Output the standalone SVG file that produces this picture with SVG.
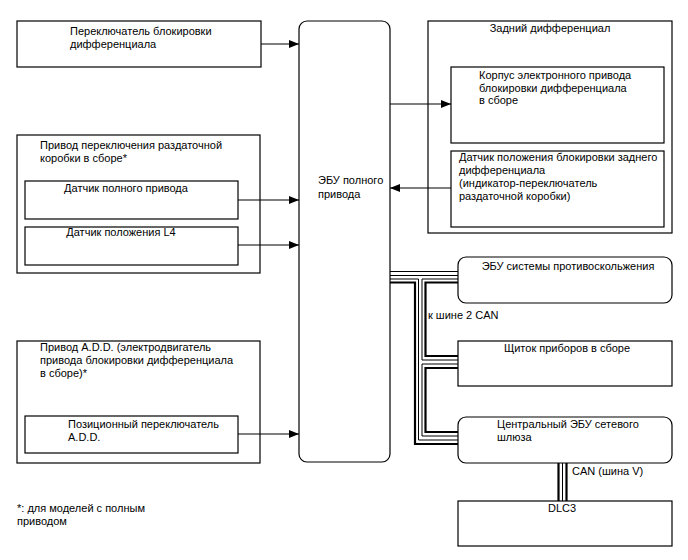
<svg xmlns="http://www.w3.org/2000/svg" width="688" height="560" viewBox="0 0 688 560">
<style>
text{font-family:"Liberation Sans",Arial,sans-serif;font-size:11px;fill:#000}
.b{fill:#fff;stroke:#000;stroke-width:1.2}
.c{fill:none;stroke:#000;stroke-width:1.1}
.w{fill:none;stroke:#000;stroke-width:1}
.k{fill:none;stroke:#000;stroke-width:2.2}
.m{text-anchor:middle}
</style>
<defs>
<marker id="ah" viewBox="0 0 10 8" refX="10" refY="4" markerWidth="10" markerHeight="8" markerUnits="userSpaceOnUse" orient="auto">
<path d="M0,0 L10,4 L0,8 Z" fill="#000"/>
</marker>
</defs>
<rect width="688" height="560" fill="#fff"/>

<g id="diff-lock-switch">
<rect class="b" x="17" y="21" width="244" height="46"/>
<text x="70" y="35">Переключатель блокировки</text>
<text x="70" y="48">дифференциала</text>
</g>

<g id="ecu-4wd">
<rect class="b" x="299" y="21" width="91" height="441" rx="8"/>
<text x="318" y="184">ЭБУ полного</text>
<text x="318" y="198">привода</text>
</g>

<g id="transfer-actuator">
<rect class="b" x="17" y="135" width="243" height="138"/>
<text x="40" y="149">Привод переключения раздаточной</text>
<text x="40" y="162">коробки в сборе*</text>
</g>
<g id="4wd-sensor">
<rect class="b" x="25" y="181" width="213" height="38"/>
<text x="126" y="192" class="m">Датчик полного привода</text>
</g>
<g id="l4-sensor">
<rect class="b" x="25" y="227" width="213" height="38"/>
<text x="121" y="236" class="m">Датчик положения L4</text>
</g>

<g id="add-actuator">
<rect class="b" x="17" y="341" width="243" height="122"/>
<text x="40" y="351">Привод A.D.D. (электродвигатель</text>
<text x="40" y="364">привода блокировки дифференциала</text>
<text x="40" y="377">в сборе)*</text>
</g>
<g id="add-position-switch">
<rect class="b" x="25" y="416" width="213" height="37"/>
<text x="68" y="428">Позиционный переключатель</text>
<text x="68" y="441">A.D.D.</text>
</g>

<g id="rear-diff">
<rect class="b" x="428" y="21" width="244" height="212"/>
<text x="550" y="32" class="m">Задний дифференциал</text>
</g>
<g id="diff-lock-actuator">
<rect class="b" x="451" y="67" width="213" height="76"/>
<text x="479" y="79">Корпус электронного привода</text>
<text x="479" y="92">блокировки дифференциала</text>
<text x="479" y="104">в сборе</text>
</g>
<g id="rear-lock-sensor">
<rect class="b" x="451" y="151" width="213" height="76"/>
<text x="459" y="161">Датчик положения блокировки заднего</text>
<text x="459" y="174">дифференциала</text>
<text x="459" y="187">(индикатор-переключатель</text>
<text x="459" y="200">раздаточной коробки)</text>
</g>

<g id="skid-ecu">
<rect class="b" x="458" y="257" width="214" height="46" rx="8"/>
<text x="568" y="270" class="m">ЭБУ системы противоскольжения</text>
</g>
<text x="428" y="319">к шине 2 CAN</text>

<g id="combination-meter">
<rect class="b" x="458" y="341" width="214" height="45"/>
<text x="567" y="352" class="m">Щиток приборов в сборе</text>
</g>

<g id="gateway-ecu">
<rect class="b" x="458" y="417" width="214" height="46" rx="8"/>
<text x="497" y="428">Центральный ЭБУ сетевого</text>
<text x="497" y="441">шлюза</text>
</g>
<text x="572" y="475">CAN (шина V)</text>

<g id="dlc3">
<rect class="b" x="458" y="501" width="214" height="45"/>
<text x="562" y="512" class="m">DLC3</text>
</g>

<text x="17" y="512">*: для моделей с полным</text>
<text x="17" y="525">приводом</text>

<g id="connectors">
<path class="c" d="M261,44 H299" marker-end="url(#ah)"/>
<path class="c" d="M238,200 H299" marker-end="url(#ah)"/>
<path class="c" d="M238,245 H299" marker-end="url(#ah)"/>
<path class="c" d="M238,434 H299" marker-end="url(#ah)"/>
<path class="c" d="M390,104 H451" marker-end="url(#ah)"/>
<path class="c" d="M451,188 H390" marker-end="url(#ah)"/>
<g id="can-bus">
<path class="w" d="M390,271.5 H458"/>
<path class="w" d="M390,275.5 H458"/>
<path class="w" d="M390,279 H418.5 V440 H458"/>
<path class="k" d="M390,282.5 H415 V444 H458"/>
<path class="w" d="M458,279 H422 V360 H458"/>
<path class="k" d="M458,282.5 H425.5 V356 H458"/>
<path class="w" d="M458,364 H422 V436 H458"/>
<path class="k" d="M458,368 H425.5 V432 H458"/>
<path class="k" d="M558.5,463 V501"/>
<path class="w" d="M562.5,463 V501"/>
<path class="k" d="M566.5,463 V501"/>
</g>
</g>
</svg>
